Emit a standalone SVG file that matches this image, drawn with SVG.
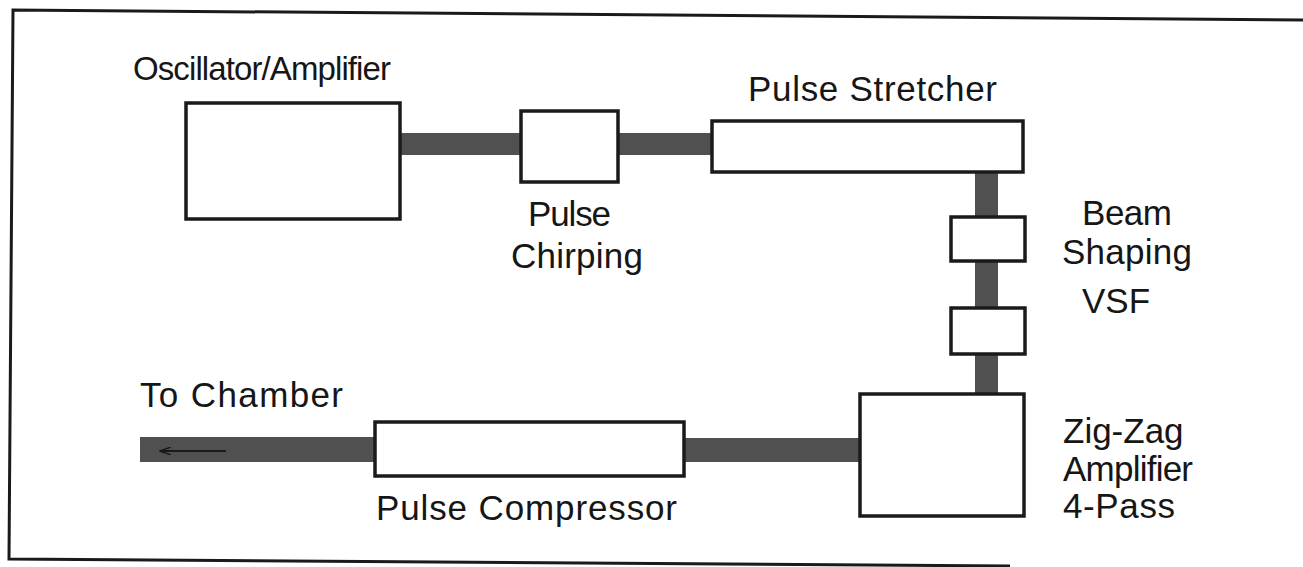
<svg xmlns="http://www.w3.org/2000/svg" width="1303" height="567" viewBox="0 0 1303 567">
<style>
.box{fill:#fff;stroke:#1a1a1a;stroke-width:3.5}
.beam{fill:#505050}
.lbl{font-family:"Liberation Sans",Arial,sans-serif;font-size:35px;fill:#161616}
.frame{fill:none;stroke:#1a1a1a;stroke-width:3}
</style>
<defs>
<marker id="ah" markerWidth="12" markerHeight="8" refX="11" refY="4" orient="auto" markerUnits="userSpaceOnUse">
<path d="M0,0 L11,4 L0,8" fill="none" stroke="#1a1a1a" stroke-width="1.5"/>
</marker>
</defs>
<g id="frame">
<path class="frame" d="M1303,20 L13,10 L9,559 L1010,566"/>
</g>
<g id="connectors">
<rect class="beam" x="400" y="133" width="121" height="22"/>
<rect class="beam" x="618" y="133" width="94" height="22"/>
<rect class="beam" x="975" y="172" width="23" height="45"/>
<rect class="beam" x="975" y="261" width="23" height="47"/>
<rect class="beam" x="975" y="354" width="23" height="40"/>
<rect class="beam" x="684" y="438" width="176" height="24"/>
<rect class="beam" x="140" y="437" width="235" height="25"/>
<line x1="226" y1="451" x2="160" y2="451" stroke="#1a1a1a" stroke-width="1.8" marker-end="url(#ah)"/>
</g>
<g id="oscillator">
<rect class="box" x="186" y="103" width="214" height="116"/>
<text class="lbl" x="133" y="80" style="font-size:33px" textLength="258">Oscillator/Amplifier</text>
</g>
<g id="chirping">
<rect class="box" x="521" y="111" width="97" height="71"/>
<text class="lbl" x="528" y="226" textLength="83">Pulse</text>
<text class="lbl" x="511" y="268" textLength="132">Chirping</text>
</g>
<g id="stretcher">
<rect class="box" x="712" y="121" width="311" height="51"/>
<text class="lbl" x="748" y="101" textLength="249">Pulse Stretcher</text>
</g>
<g id="beamshaping">
<rect class="box" x="951" y="217" width="74" height="44"/>
<text class="lbl" x="1082" y="225" textLength="90">Beam</text>
<text class="lbl" x="1062" y="264" textLength="130">Shaping</text>
</g>
<g id="vsf">
<rect class="box" x="951" y="308" width="74" height="46"/>
<text class="lbl" x="1082" y="313">VSF</text>
</g>
<g id="zigzag">
<rect class="box" x="860" y="394" width="164" height="122"/>
<text class="lbl" x="1063" y="443">Zig-Zag</text>
<text class="lbl" x="1063" y="481" textLength="130">Amplifier</text>
<text class="lbl" x="1063" y="518" textLength="112">4-Pass</text>
</g>
<g id="compressor">
<rect class="box" x="375" y="422" width="309" height="54"/>
<text class="lbl" x="376" y="520" textLength="301">Pulse Compressor</text>
</g>
<g id="chamber">
<text class="lbl" x="140" y="407" textLength="203">To Chamber</text>
</g>
</svg>
